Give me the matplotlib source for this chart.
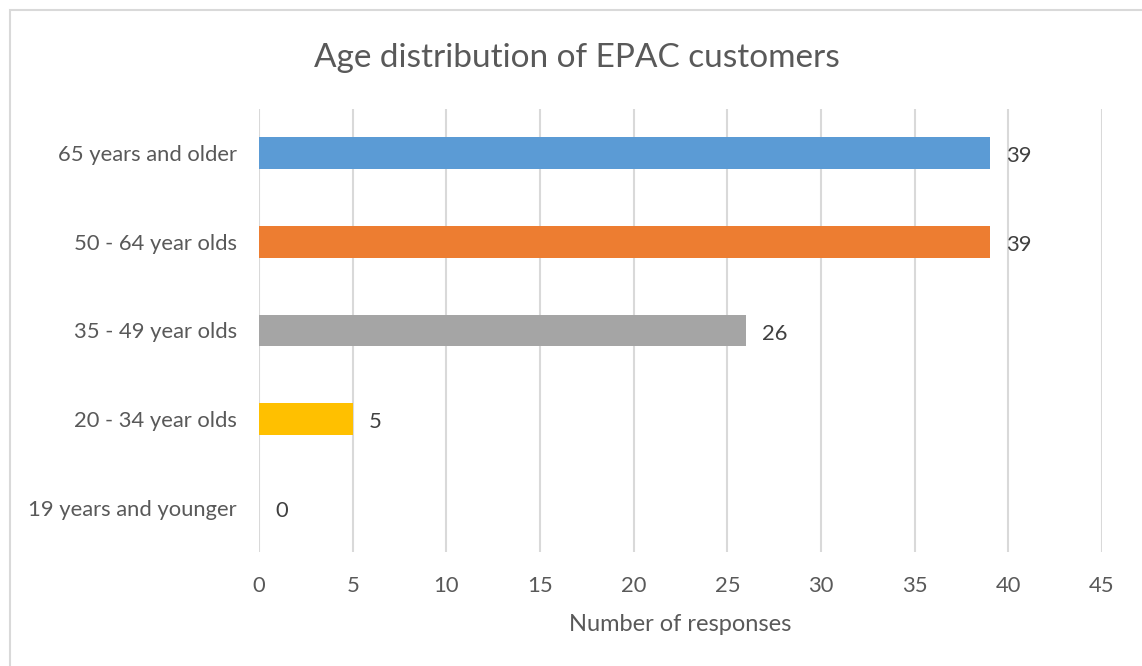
import matplotlib.pyplot as plt
from matplotlib.patches import Rectangle

categories = ["19 years and younger", "20 - 34 year olds", "35 - 49 year olds",
              "50 - 64 year olds", "65 years and older"]
responses = [0, 5, 26, 39, 39]
bar_colors = ["#4472C4", "#FFC000", "#A5A5A5", "#ED7D31", "#5B9BD5"]
x_ticks = [0, 5, 10, 15, 20, 25, 30, 35, 40, 45]

plt.rcParams['font.family'] = ['Lato', 'DejaVu Sans']
text_col = "#595959"
grid_col = "#d9d9d9"
fs = 15.8

fig = plt.figure(figsize=(11.42, 6.66), dpi=100)
ax = fig.add_axes([259 / 1142, 1 - 552 / 666, (1102 - 259) / 1142, (552 - 109) / 666])

ypos = range(len(categories))
ax.barh(ypos, responses, height=0.36, color=bar_colors, zorder=2)

# value labels just past the end of each bar
for y, v in zip(ypos, responses):
    ax.annotate(str(v), xy=(v, y), xytext=(16, -3), textcoords="offset pixels",
                ha="left", va="center", fontsize=fs, color="#404040")

ax.set_xlim(0, 45)
ax.set_ylim(-0.5, len(categories) - 0.5)
ax.set_xticks(x_ticks)
ax.set_yticks(list(ypos))
ax.set_yticklabels(categories)
ax.tick_params(axis="both", length=0, labelsize=fs, colors=text_col)
ax.tick_params(axis="y", pad=16)
ax.tick_params(axis="x", pad=17)
ax.grid(axis="x", color=grid_col, lw=1.5, zorder=0)
for s in ax.spines.values():
    s.set_visible(False)

ax.set_xlabel("Number of responses", fontsize=17, color=text_col, labelpad=13)
fig.text(0.505, 0.913, "Age distribution of EPAC customers", ha="center", va="center",
         fontsize=24, color=text_col)

# chart border
fig.patches.append(Rectangle((9.5 / 1142, -0.1), 2, 1.1 - 9.5 / 666, transform=fig.transFigure,
                             fill=False, ec=grid_col, lw=1.5))

fig.savefig("out.png", dpi=100)
